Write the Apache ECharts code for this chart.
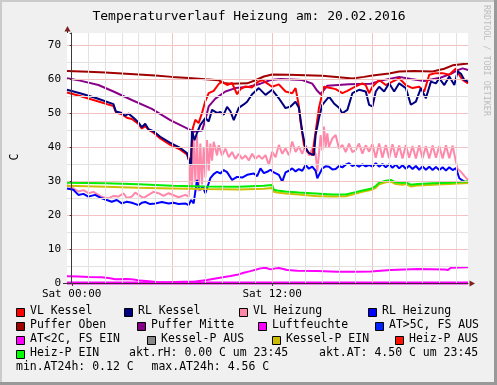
<!DOCTYPE html>
<html><head><meta charset="utf-8">
<script src="https://cdn.jsdelivr.net/npm/echarts@6/dist/echarts.min.js"></script>
<style>html,body{margin:0;padding:0;background:#F0F0F0;overflow:hidden}#c{width:497px;height:385px}</style>
</head><body><div id="c"></div>
<script>
// ---- data (x = hours since Sat 00:00, y = degrees C) ----
const pufferOben = [[-0.28,62.3],[1,62.1],[2,61.9],[3,61.6],[4,61.3],[5,61.0],[6,60.6],[7,60.3],[8,59.9],[8.8,59.6],[9.1,58.8],[9.5,58.6],[10.5,58.7],[11,59.6],[11.5,60.7],[12,61.3],[13,61.2],[14,61.1],[15,60.9],[16,60.5],[16.8,60.1],[17.5,60.6],[18,61.0],[19,61.6],[19.6,62.2],[20.5,62.3],[21.6,62.2],[22.3,63.0],[22.8,64.0],[23.72,64.5]];
const pufferMitte = [[-0.28,60.2],[0.5,59.5],[1.6,58.2],[2.5,56.3],[3.6,53.8],[4.8,51.2],[5.9,47.9],[6.6,46.2],[7.3,44.5],[7.8,44.8],[8.0,48.0],[8.2,51.9],[8.6,54.2],[9.2,56.3],[9.8,57.3],[10.6,57.7],[11.3,58.6],[11.9,59.7],[12.5,60.0],[13.8,59.7],[14.4,58.6],[14.7,56.5],[14.9,55.5],[15.3,58.0],[16.6,58.4],[17.9,58.6],[18.5,59.5],[19.6,60.6],[20.3,60.0],[21.1,59.4],[22.1,60.4],[22.7,61.5],[23.1,62.6],[23.4,63.1],[23.72,62.6]];
const vlKessel = [[-0.28,56.0],[0.5,55.0],[1.5,53.5],[2.5,52.0],[2.65,50.2],[3.0,49.6],[3.3,48.6],[3.6,48.2],[4.0,46.8],[4.2,45.4],[4.4,46.2],[4.6,45.0],[4.9,44.2],[5.3,42.5],[5.9,40.6],[6.5,39.2],[6.9,37.8],[7.1,35.0],[7.25,45.5],[7.4,48.0],[7.6,47.0],[7.8,50.0],[8.0,53.5],[8.2,55.8],[8.5,56.5],[8.8,58.5],[9.0,59.2],[9.3,58.2],[9.6,58.8],[9.9,55.5],[10.1,57.0],[10.4,57.8],[10.8,57.5],[11.1,59.0],[11.4,59.7],[11.7,58.7],[12.0,57.7],[12.4,58.4],[12.8,56.3],[13.2,55.8],[13.4,57.3],[13.6,52.0],[13.7,47.4],[13.9,40.6],[14.1,38.6],[14.4,37.6],[14.6,44.5],[14.8,51.5],[15.1,57.7],[15.5,57.3],[15.8,57.0],[16.2,55.8],[16.5,56.5],[16.8,57.3],[17.1,58.0],[17.4,58.7],[17.6,58.2],[17.8,55.8],[18.0,57.7],[18.4,59.7],[18.8,58.2],[19.2,59.2],[19.6,60.2],[20.0,58.2],[20.4,57.3],[20.8,57.7],[21.1,56.3],[21.4,61.2],[21.8,61.7],[22.2,61.7],[22.6,61.2],[23.0,63.1],[23.2,61.2],[23.4,59.7],[23.72,58.7]];
const rlKessel = [[-0.28,56.8],[0.5,55.8],[1.5,54.3],[2.5,52.6],[2.65,50.4],[3.0,50.0],[3.2,49.2],[3.4,49.8],[3.7,48.6],[4.0,47.2],[4.2,45.8],[4.4,46.8],[4.6,45.2],[4.9,44.6],[5.3,43.0],[5.9,41.2],[6.5,39.7],[6.9,38.2],[7.05,35.5],[7.15,34.7],[7.2,45.0],[7.35,42.0],[7.5,44.1],[7.7,46.5],[8.0,48.5],[8.2,47.5],[8.4,50.9],[8.7,50.0],[8.9,50.3],[9.1,49.5],[9.3,51.8],[9.5,50.5],[9.7,47.9],[10.0,51.5],[10.3,52.5],[10.5,53.3],[10.8,55.5],[11.2,57.3],[11.6,55.3],[12.0,56.8],[12.4,54.3],[12.8,51.4],[13.1,51.9],[13.4,53.3],[13.6,51.5],[13.8,44.5],[14.0,39.7],[14.2,38.2],[14.5,37.6],[14.6,43.5],[14.8,48.5],[15.0,52.4],[15.1,52.9],[15.4,54.8],[15.7,52.8],[16.0,51.5],[16.2,49.9],[16.5,50.9],[16.8,55.8],[17.2,56.8],[17.6,56.3],[17.8,52.4],[18.0,51.9],[18.2,56.3],[18.4,57.7],[18.7,56.3],[19.0,58.7],[19.3,56.3],[19.6,58.7],[20.0,57.3],[20.3,52.4],[20.6,53.3],[20.9,57.3],[21.2,54.3],[21.5,59.2],[21.8,58.7],[22.0,60.2],[22.3,58.2],[22.6,60.7],[22.9,58.2],[23.1,62.2],[23.3,61.5],[23.5,59.7],[23.72,59.2]];
const vlHeizung = [[-0.28,28.8],[0.1,27.8],[0.4,26.9],[0.7,27.3],[1.0,26.4],[1.3,26.8],[1.6,25.9],[1.9,25.2],[2.2,24.9],[2.5,25.6],[2.8,25.4],[3.1,26.4],[3.3,25.0],[3.6,25.4],[3.8,26.6],[4.0,25.9],[4.3,25.0],[4.6,25.9],[4.9,26.8],[5.2,26.4],[5.5,25.6],[5.8,26.4],[6.1,25.8],[6.4,25.2],[6.8,25.9],[7.0,25.4],[7.1,35.2],[7.2,28.0],[7.3,42.0],[7.4,30.0],[7.5,43.5],[7.6,27.0],[7.7,41.0],[7.8,29.0],[7.9,40.0],[8.0,31.0],[8.1,42.0],[8.2,33.0],[8.3,41.0],[8.4,36.0],[8.5,41.5],[8.7,37.5],[8.8,40.5],[9.0,37.5],[9.2,39.5],[9.4,37.0],[9.6,38.5],[9.8,36.5],[10.0,38.0],[10.2,36.5],[10.4,37.5],[10.6,36.0],[10.8,38.0],[11.0,36.5],[11.2,37.5],[11.4,36.5],[11.6,37.6],[11.8,34.7],[12.0,38.6],[12.2,37.0],[12.4,40.6],[12.6,38.0],[12.8,39.6],[13.0,37.5],[13.2,41.6],[13.4,38.5],[13.6,40.1],[13.8,38.0],[14.0,40.5],[14.2,37.5],[14.4,39.5],[14.6,38.0],[14.7,32.7],[14.8,38.0],[14.9,43.5],[15.0,39.0],[15.1,46.0],[15.2,40.0],[15.3,44.0],[15.4,40.0],[15.6,42.5],[15.8,43.5],[16.0,39.5],[16.2,40.6],[16.4,38.5],[16.6,41.0],[16.8,38.5],[17.0,39.1],[17.2,41.0],[17.4,38.0],[17.6,40.5],[17.8,38.6],[18.0,40.8],[18.2,36.8],[18.4,41.0],[18.6,36.8],[18.8,40.6],[19.0,36.7],[19.2,40.8],[19.4,36.8],[19.6,40.4],[19.8,36.6],[20.0,40.6],[20.2,36.8],[20.4,40.3],[20.6,36.6],[20.8,40.5],[21.0,36.7],[21.2,40.2],[21.4,36.6],[21.6,40.4],[21.8,36.8],[22.0,40.3],[22.2,36.6],[22.4,40.5],[22.6,36.7],[22.8,40.4],[22.95,36.8],[23.1,33.5],[23.3,32.7],[23.5,31.5],[23.72,30.3]];
const rlHeizung = [[-0.28,27.8],[0.1,27.4],[0.4,25.9],[0.7,26.2],[1.0,25.4],[1.4,25.9],[1.8,24.9],[2.1,24.4],[2.4,23.9],[2.7,24.4],[3.0,23.4],[3.3,23.9],[3.6,23.6],[4.0,22.9],[4.2,23.6],[4.4,23.8],[4.7,23.2],[5.0,23.4],[5.4,23.8],[5.8,23.4],[6.1,23.6],[6.4,23.2],[6.8,23.4],[7.0,22.9],[7.15,24.4],[7.3,23.4],[7.5,30.3],[7.6,28.0],[7.7,27.4],[7.85,28.4],[8.0,26.4],[8.3,30.8],[8.5,32.0],[8.7,32.7],[8.9,32.2],[9.1,33.2],[9.3,32.6],[9.4,33.0],[9.6,30.3],[9.9,31.2],[10.2,31.0],[10.5,31.8],[10.9,32.2],[11.1,31.4],[11.3,33.7],[11.5,32.3],[11.7,32.7],[11.9,33.3],[12.1,32.5],[12.4,31.8],[12.6,29.8],[12.8,32.5],[13.0,33.0],[13.2,33.7],[13.4,32.8],[13.6,33.5],[13.8,33.0],[14.0,34.7],[14.2,33.6],[14.4,34.2],[14.6,33.0],[14.7,30.8],[14.8,30.3],[15.0,33.7],[15.2,34.3],[15.4,34.2],[15.6,33.4],[15.8,33.5],[16.0,34.4],[16.2,34.0],[16.4,34.8],[16.6,35.2],[16.8,34.4],[17.0,34.8],[17.2,34.2],[17.4,34.9],[17.6,34.3],[17.8,34.7],[18.0,34.2],[18.2,35.2],[18.4,34.2],[18.6,35.0],[18.8,34.0],[19.0,34.9],[19.2,33.9],[19.4,34.8],[19.6,33.7],[19.8,34.6],[20.0,33.6],[20.2,34.5],[20.4,33.5],[20.6,34.4],[20.8,33.3],[21.0,34.3],[21.2,33.3],[21.4,34.2],[21.6,33.2],[21.8,34.1],[22.0,33.2],[22.2,34.0],[22.4,33.1],[22.6,34.0],[22.8,33.2],[23.0,33.8],[23.2,30.8],[23.5,29.8],[23.72,29.3]];
const heizPEin = [[-0.28,29.5],[2,29.3],[4,29.0],[6,28.6],[8,28.4],[10,28.3],[11.5,28.6],[12.0,28.8],[12.1,27.4],[12.3,27.2],[12.8,26.9],[13.6,26.6],[14.6,26.3],[15.6,26.0],[16.4,26.0],[16.8,26.5],[17.4,27.2],[17.9,27.7],[18.2,28.5],[18.4,29.5],[18.8,30.1],[19.1,30.3],[19.4,29.6],[19.8,29.4],[20.0,29.6],[20.3,28.9],[20.7,29.1],[21.6,29.3],[22.6,29.5],[23.72,29.9]];
const kesselPEin = [[-0.28,28.6],[2,28.3],[4,28.0],[6,27.8],[8,27.6],[10,27.5],[11.5,27.7],[12.0,27.9],[12.1,26.8],[12.3,26.6],[12.8,26.3],[13.6,26.0],[14.6,25.6],[15.6,25.4],[16.4,25.5],[16.8,26.0],[17.4,26.8],[17.9,27.3],[18.2,28.0],[18.4,29.0],[18.8,29.6],[19.1,29.8],[19.4,29.1],[19.8,28.9],[20.0,29.1],[20.3,28.4],[20.7,28.7],[21.6,28.9],[22.6,29.1],[23.72,29.4]];
const aussenTemp = [[-0.28,2.0],[0.4,1.9],[1.0,1.8],[1.8,1.7],[2.3,1.4],[2.6,1.1],[3.3,1.2],[3.7,1.0],[4.1,0.7],[4.6,0.5],[5.1,0.3],[5.7,0.2],[6.2,0.3],[6.7,0.35],[7.3,0.4],[8.1,0.9],[8.7,1.4],[9.5,2.06],[9.9,2.4],[10.3,3.0],[10.7,3.5],[11.0,3.9],[11.3,4.3],[11.6,4.5],[11.9,4.0],[12.2,4.3],[12.4,4.4],[12.6,4.2],[12.9,3.8],[13.5,3.6],[14.7,3.5],[15.9,3.3],[17.1,3.3],[17.9,3.4],[19.1,3.8],[20.7,4.1],[22.3,4.0],[22.5,3.8],[22.7,4.5],[23.72,4.6]];
const luftfeuchte = [[-0.28,0],[23.72,0]];

const gridHours = [0,1,2,3,4,5,6,7,8,9,10,11,12,13,14,15,16,17,18,19,20,21,22,23];
const majorHours = [0,6,12,18];
const gridValues = [5,10,15,20,25,30,35,40,45,50,55,60,65,70];
const xTickLabels = [[0,'Sat 00:00'],[12,'Sat 12:00']];

const legendNames = ['VL Kessel','RL Kessel','VL Heizung','RL Heizung','Puffer Oben','Puffer Mitte','Luftfeuchte','AT>5C, FS AUS','AT<2C, FS EIN','Kessel-P AUS','Kessel-P EIN','Heiz-P AUS','Heiz-P EIN'];
const legendColors = ['#FF0000','#000080','#FF88AA','#0000FF','#A00000','#880088','#FF00FF','#0022FF','#FF00FF','#888888','#CCBB00','#FF1100','#00FF00'];
const infoTexts = ['akt.rH: 0.00 C um 23:45','akt.AT: 4.50 C um 23:45','min.AT24h: 0.12 C','max.AT24h: 4.56 C'];
const titleText = 'Temperaturverlauf Heizung am: 20.02.2016';

// ---- layout ----
const MONO = 'DejaVu Sans Mono';
const legendPos = [[16,311.5],[124,311.5],[239,311.5],[368,311.5],[16,325.5],[137,325.5],[258,325.5],[375,325.5],[16,339.5],[147,339.5],[272,339.5],[395,339.5],[16,353.5]];
const infoPos = [[129,353.5],[319,353.5],[16,367.5],[151.5,367.5]];
const GMIN = '#E2E2E2', GMAJ = '#F2C2C2';

const chart = echarts.init(document.getElementById('c'));

const vLines = gridHours.map(h => ({xAxis: h, lineStyle: {color: majorHours.includes(h) ? GMAJ : GMIN}}));
const hLines = gridValues.map(v => ({yAxis: v, lineStyle: {color: v % 10 === 0 ? GMAJ : GMIN}}));

function ln(name, data, color, z) {
  return {name, type:'line', data, symbol:'none', showSymbol:false, animation:false, z: z,
    lineStyle:{color, width:2}, itemStyle:{color}, silent:true};
}

const series = [
  Object.assign(ln('Luftfeuchte', luftfeuchte, '#FF00FF', 1), {
    clip:false, lineStyle:{color:'#FF00FF', width:3},
    markLine: {silent:true, symbol:['none','none'], animation:false, label:{show:false},
      lineStyle:{width:1, type:'solid'}, data: vLines.concat(hLines)}
  }),
  ln('Puffer Oben', pufferOben, '#A00000', 2),
  ln('Puffer Mitte', pufferMitte, '#880088', 2),
  ln('VL Heizung', vlHeizung, '#FF88AA', 2),
  ln('RL Heizung', rlHeizung, '#0000FF', 2),
  ln('Kessel-P EIN', kesselPEin, '#CCC000', 2),
  ln('Heiz-P EIN', heizPEin, '#00EE00', 2),
  ln('VL Kessel', vlKessel, '#FF0000', 3),
  ln('RL Kessel', rlKessel, '#000080', 3),
  ln('AT<2C, FS EIN', aussenTemp, '#FF00FF', 3)
];

const option = {
  backgroundColor: '#F0F0F0',
  animation: false,
  grid: {left:67, right:29, top:33, bottom:102, show:true, backgroundColor:'#FFFFFF', borderWidth:0},
  xAxis: {type:'value', min:-0.28, max:23.72, z:10,
    axisLine:{show:true, lineStyle:{color:'#4A2040', width:1}},
    axisTick:{show:false}, axisLabel:{show:false}, splitLine:{show:false}},
  yAxis: {type:'value', min:0, max:73.5, interval:10, z:10,
    axisLine:{show:true, lineStyle:{color:'#3A3A3A', width:1}},
    axisTick:{show:true, length:2, lineStyle:{color:'#3A3A3A'}},
    axisLabel:{margin:6, color:'#000', fontFamily:MONO, fontSize:11,
      formatter: v => (v % 10 === 0 ? String(v) : '')},
    splitLine:{show:false}},
  series
};
chart.setOption(option);

const g = [];
// frame
g.push({type:'rect', shape:{x:0,y:0,width:497,height:2}, style:{fill:'#CBCBCB'}, z:100});
g.push({type:'rect', shape:{x:0,y:0,width:2,height:385}, style:{fill:'#CBCBCB'}, z:100});
g.push({type:'rect', shape:{x:494,y:0,width:3,height:385}, style:{fill:'#999999'}, z:100});
g.push({type:'rect', shape:{x:0,y:382,width:497,height:3}, style:{fill:'#999999'}, z:100});
// title
g.push({type:'text', x:249, y:17, style:{text:titleText, fill:'#000', font:'13px "DejaVu Sans Mono"', textAlign:'center', textVerticalAlign:'middle'}, z:100});
// watermark
g.push({type:'text', x:486.5, y:5, rotation:-Math.PI/2, style:{text:'RRDTOOL / TOBI OETIKER', fill:'#BDBDBD', font:'8.4px "DejaVu Sans Mono"', textAlign:'left', textVerticalAlign:'middle'}, z:100});
// y axis name
g.push({type:'text', x:15, y:157, rotation:Math.PI/2, style:{text:'C', fill:'#000', font:'11.5px "DejaVu Sans Mono"', textAlign:'center', textVerticalAlign:'middle'}, z:100});
// arrows
const x0 = chart.convertToPixel({xAxisIndex:0}, -0.28);
const x1 = chart.convertToPixel({xAxisIndex:0}, 23.72);
const y0 = chart.convertToPixel({yAxisIndex:0}, 0);
const yTop = chart.convertToPixel({yAxisIndex:0}, 73.5);
g.push({type:'polygon', shape:{points:[[x0+0.5,yTop-7],[x0-2.5,yTop-1.5],[x0+3.5,yTop-1.5]]}, style:{fill:'#7F1F1F'}, z:100});
g.push({type:'line', shape:{x1:x0+0.5,y1:yTop,x2:x0+0.5,y2:yTop-2}, style:{stroke:'#3A3A3A', lineWidth:1}, z:100});
g.push({type:'polygon', shape:{points:[[x1+7,y0+0.5],[x1+1.5,y0-2.5],[x1+1.5,y0+3.5]]}, style:{fill:'#7F1F1F'}, z:100});
g.push({type:'line', shape:{x1:x0-4,y1:y0+0.5,x2:x0,y2:y0+0.5}, style:{stroke:'#3A3A3A', lineWidth:1}, z:100});
// x tick labels
xTickLabels.forEach(([h, t]) => {
  const px = chart.convertToPixel({xAxisIndex:0}, h);
  g.push({type:'text', x:px, y:y0 + 11, style:{text:t, fill:'#000', font:'11px "DejaVu Sans Mono"', textAlign:'center', textVerticalAlign:'middle'}, z:100});
  g.push({type:'line', shape:{x1:Math.round(px)+0.5,y1:y0,x2:Math.round(px)+0.5,y2:y0+3}, style:{stroke:'#3A3A3A', lineWidth:1}, z:100});
});
// legend
legendNames.forEach((n, i) => {
  const [lx, ly] = legendPos[i];
  g.push({type:'rect', shape:{x:lx+0.5, y:Math.round(ly-4)+0.5, width:8, height:8}, style:{fill:legendColors[i], stroke:'#000', lineWidth:1}, z:100});
  g.push({type:'text', x:lx+14, y:ly, style:{text:n, fill:'#000', font:'11.5px "DejaVu Sans Mono"', textAlign:'left', textVerticalAlign:'middle'}, z:100});
});
infoTexts.forEach((t, i) => {
  const [lx, ly] = infoPos[i];
  g.push({type:'text', x:lx, y:ly, style:{text:t, fill:'#000', font:'11.5px "DejaVu Sans Mono"', textAlign:'left', textVerticalAlign:'middle'}, z:100});
});
chart.setOption({graphic: g});
</script></body></html>
